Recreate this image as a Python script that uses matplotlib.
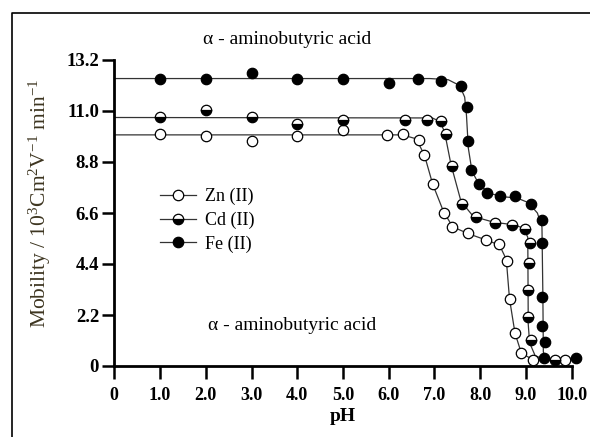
import matplotlib
matplotlib.use("Agg")
import matplotlib.pyplot as plt
from matplotlib.lines import Line2D

plt.rcParams["font.family"] = ["Liberation Serif", "DejaVu Serif"]
plt.rcParams["mathtext.fontset"] = "custom"
plt.rcParams["mathtext.rm"] = "Liberation Serif"
plt.rcParams["mathtext.it"] = "Liberation Serif:italic"
plt.rcParams["mathtext.bf"] = "Liberation Serif:bold"

# measured points (pH, mobility)
zn_ph = [1.0, 2.0, 3.0, 4.0, 5.0, 5.97, 6.32, 6.67, 6.78, 6.96, 7.21, 7.38,
         7.74, 8.13, 8.41, 8.59, 8.65, 8.76, 8.89, 9.16, 9.85]
zn_mob = [10.0, 9.93, 9.71, 9.93, 10.17, 9.97, 10.0, 9.74, 9.09, 7.84, 6.61, 6.0,
          5.72, 5.43, 5.25, 4.53, 2.88, 1.41, 0.55, 0.28, 0.26]

cd_ph = [1.0, 2.0, 3.0, 4.0, 5.0, 6.36, 6.83, 7.14, 7.25, 7.38, 7.60, 7.91,
         8.33, 8.70, 8.98, 9.08, 9.06, 9.05, 9.04, 9.12, 9.64]
cd_mob = [10.72, 11.03, 10.72, 10.46, 10.63, 10.6, 10.63, 10.57, 10.0, 8.62, 6.98, 6.41,
          6.19, 6.1, 5.92, 5.3, 4.44, 3.28, 2.1, 1.13, 0.26]

fe_ph = [1.0, 2.0, 3.0, 4.0, 5.0, 6.0, 6.63, 7.14, 7.58, 7.72, 7.74, 7.80,
         7.97, 8.15, 8.43, 8.76, 9.10, 9.34, 9.36, 9.36, 9.36, 9.42, 9.39, 10.09]
fe_mob = [12.4, 12.4, 12.64, 12.4, 12.4, 12.19, 12.4, 12.3, 12.07, 11.18, 9.70, 8.45,
          7.87, 7.47, 7.33, 7.33, 6.97, 6.29, 5.29, 2.96, 1.74, 1.05, 0.33, 0.33]

# hand-drawn fitted curves
zn_fit_x = [0, 6.3, 6.6, 6.78, 6.96, 7.2, 7.4, 7.75, 8.15, 8.42, 8.57, 8.64, 8.76, 8.9, 9.15, 9.9]
zn_fit_y = [9.97, 9.97, 9.8, 9.1, 7.85, 6.65, 6.0, 5.7, 5.42, 5.22, 4.6, 2.9, 1.42, 0.55, 0.28, 0.26]
cd_fit_x = [0, 6.95, 7.12, 7.22, 7.36, 7.58, 7.85, 8.3, 8.7, 8.95, 9.04, 9.05, 9.08, 9.2, 9.4, 9.7]
cd_fit_y = [10.72, 10.7, 10.55, 10.1, 8.7, 7.1, 6.45, 6.2, 6.1, 5.95, 5.55, 1.8, 1.0, 0.45, 0.28, 0.26]
fe_fit_x = [0, 6.9, 7.3, 7.55, 7.66, 7.7, 7.74, 7.82, 7.97, 8.2, 8.5, 8.8, 9.05, 9.25, 9.35,
            9.37, 9.38, 9.45, 10.1]
fe_fit_y = [12.4, 12.4, 12.35, 12.1, 11.6, 10.8, 9.4, 8.4, 7.85, 7.45, 7.3, 7.25, 7.05, 6.6, 6.0,
            3.0, 0.6, 0.33, 0.33]

x_ticks = [0, 1, 2, 3, 4, 5, 6, 7, 8, 9, 10]
x_labels = ["0", "1.0", "2.0", "3.0", "4.0", "5.0", "6.0", "7.0", "8.0", "9.0", "10.0"]
y_ticks = [0, 2.2, 4.4, 6.6, 8.8, 11.0, 13.2]
y_labels = ["0", "2.2", "4.4", "6.6", "8.8", "11.0", "13.2"]

W, H = 590, 437
fig = plt.figure(figsize=(W / 100, H / 100), dpi=100)
ax = fig.add_axes([114.3 / W, 1 - 366 / H, 457.4 / W, 306 / H])

line_kw = dict(color="#333333", lw=0.9, zorder=2)
ax.plot(zn_fit_x, zn_fit_y, **line_kw)
ax.plot(cd_fit_x, cd_fit_y, **line_kw)
ax.plot(fe_fit_x, fe_fit_y, **line_kw)

mk = dict(ls="none", ms=7.5, mew=0.9, mec="black", clip_on=False, zorder=3)
ax.plot(zn_ph, zn_mob, marker="o", mfc="white", **mk)
ax.plot(cd_ph, cd_mob, marker="o", fillstyle="bottom", mfc="black", mfcalt="white", **mk)
ax.plot(fe_ph, fe_mob, marker="o", mfc="black", **mk)

ax.set_xlim(0, 10)
ax.set_ylim(0, 13.2)
ax.set_xticks(x_ticks)
ax.set_xticklabels(x_labels)
ax.set_yticks(y_ticks)
ax.set_yticklabels(y_labels)
for s in ["top", "right"]:
    ax.spines[s].set_visible(False)
for s in ["left", "bottom"]:
    ax.spines[s].set_linewidth(2.0)
ax.tick_params(direction="out", length=9, width=1.8)
ax.tick_params(axis="x", labelsize=13, pad=6)
ax.tick_params(axis="y", labelsize=13.5, pad=2)
for lbl in ax.get_xticklabels() + ax.get_yticklabels():
    lbl.set_fontweight("bold")

ax.set_xlabel("pH", fontsize=14, fontweight="bold", labelpad=3)
fig.text(40 / W, 1 - 203 / H, r"Mobility / 10$^3$Cm$^2$V$^{-1}$ min$^{-1}$",
         rotation=90, ha="center", va="center", fontsize=15.5, color="#3d3520")

fig.text(287 / W, 1 - 39 / H, "\u03b1 - aminobutyric acid", ha="center", va="center", fontsize=14)
ax.text(208 / W, 1 - 326 / H, "\u03b1 - aminobutyric acid", transform=fig.transFigure,
        ha="left", va="center", fontsize=14)

handles = [
    Line2D([], [], color="#333333", lw=0.9, marker="o", ms=7.5, mew=0.9, mec="black", mfc="white"),
    Line2D([], [], color="#333333", lw=0.9, marker="o", ms=7.5, mew=0.9, mec="black",
           fillstyle="bottom", mfc="black", mfcalt="white"),
    Line2D([], [], color="#333333", lw=0.9, marker="o", ms=7.5, mew=0.9, mec="black", mfc="black"),
]
ax.legend(handles, ["Zn (II)", "Cd (II)", "Fe (II)"], loc="upper left",
          bbox_to_anchor=(160 / W, 1 - 188 / H), bbox_transform=fig.transFigure,
          frameon=False, fontsize=13, handlelength=2.0, handletextpad=0.5,
          labelspacing=0.35, borderpad=0, borderaxespad=0)

# outer frame of the original figure (top and left edges only)
fig.add_artist(Line2D([11.5 / W, 11.5 / W, 1], [0, 1 - 12.5 / H, 1 - 12.5 / H],
                      transform=fig.transFigure, color="black", lw=1.2))

fig.savefig("out.png", dpi=100)
